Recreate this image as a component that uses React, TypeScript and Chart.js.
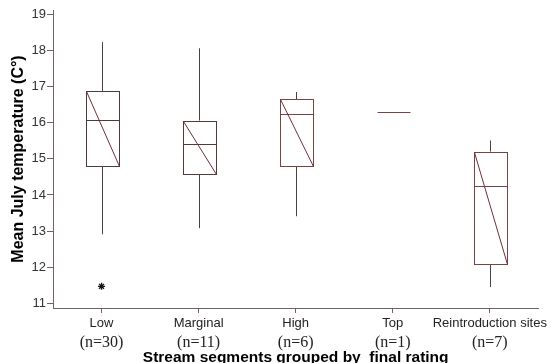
import React, { useEffect, useRef } from "react";
import { Chart, registerables } from "chart.js";

Chart.register(...registerables);

// Stream segment groups and their sample sizes
const categories = ["Low", "Marginal", "High", "Top", "Reintroduction sites"];
const sampleSizes = ["(n=30)", "(n=11)", "(n=6)", "(n=1)", "(n=7)"];

// Box-plot summaries of mean July temperature (°C)
const whiskerHigh = [18.23, 18.06, 16.85, 16.31, 15.51];
const upperQuartile = [16.88, 16.06, 16.65, 16.31, 15.2];
const medians = [16.07, 15.4, 16.24, 16.31, 14.25];
const lowerQuartile = [14.79, 14.57, 14.79, 16.31, 12.09];
const whiskerLow = [12.91, 13.08, 13.41, 16.31, 11.45];
const outliers = [11.47, null, null, null, null];

const yTicks = [11, 12, 13, 14, 15, 16, 17, 18, 19];

const SANS = "'Liberation Sans', Arial, sans-serif";
const SERIF = "'Liberation Serif', 'Times New Roman', serif";
const AXIS_COLOR = "#6f6262";
const BOX_COLORS = ["#4b3c3c", "#5a3838", "#7a4343", "#7a4343", "#7a4343"];
const WHISKER_COLOR = "#4d4040";
const DIAGONAL_COLOR = "#6e2f38";

const boxPlotPlugin = {
  id: "boxPlots",
  beforeDatasetsDraw(chart: any) {
    const { ctx } = chart;
    const xs = chart.scales.x;
    const ys = chart.scales.y;
    const step = xs.getPixelForValue(1) - xs.getPixelForValue(0);
    const half = step * 0.17;
    ctx.save();
    ctx.lineWidth = 1;
    categories.forEach((_, i) => {
      const cx = Math.round(xs.getPixelForValue(i)) + 0.5;
      const left = Math.round(cx - half) + 0.5;
      const right = Math.round(cx + half) + 0.5;
      const yTop = ys.getPixelForValue(upperQuartile[i]);
      const yBot = ys.getPixelForValue(lowerQuartile[i]);
      const yMed = ys.getPixelForValue(medians[i]);
      const yHi = ys.getPixelForValue(whiskerHigh[i]);
      const yLo = ys.getPixelForValue(whiskerLow[i]);

      if (upperQuartile[i] === lowerQuartile[i]) {
        // single observation: only a median line
        ctx.strokeStyle = BOX_COLORS[i];
        ctx.beginPath();
        ctx.moveTo(left, Math.round(yMed) + 0.5);
        ctx.lineTo(right, Math.round(yMed) + 0.5);
        ctx.stroke();
        return;
      }

      // whiskers
      ctx.strokeStyle = WHISKER_COLOR;
      ctx.beginPath();
      ctx.moveTo(cx, yHi);
      ctx.lineTo(cx, yTop);
      ctx.moveTo(cx, yBot);
      ctx.lineTo(cx, yLo);
      ctx.stroke();

      // box
      ctx.strokeStyle = BOX_COLORS[i];
      const t = Math.round(yTop) + 0.5;
      const b = Math.round(yBot) + 0.5;
      ctx.strokeRect(left, t, right - left, b - t);

      // median
      ctx.beginPath();
      ctx.moveTo(left, Math.round(yMed) + 0.5);
      ctx.lineTo(right, Math.round(yMed) + 0.5);
      ctx.stroke();

      // diagonal from upper-left to lower-right corner
      ctx.strokeStyle = DIAGONAL_COLOR;
      ctx.beginPath();
      ctx.moveTo(left, t);
      ctx.lineTo(right, b);
      ctx.stroke();
    });
    ctx.restore();
  },
};

export default function App() {
  const canvasRef = useRef<HTMLCanvasElement | null>(null);

  useEffect(() => {
    const canvas = canvasRef.current;
    if (!canvas) return;
    const chart = new Chart(canvas, {
      type: "line",
      data: {
        labels: categories,
        datasets: [
          {
            label: "Outliers",
            data: outliers as any,
            showLine: false,
            pointStyle: "star",
            pointRadius: 3.5,
            pointBorderWidth: 1.3,
            borderColor: "#111",
            backgroundColor: "#111",
          },
        ],
      },
      options: {
        responsive: false,
        animation: false,
        events: [],
        layout: { padding: { top: 10, right: 11, left: 0, bottom: 0 } },
        plugins: {
          legend: { display: false },
          tooltip: { enabled: false },
        },
        scales: {
          x: {
            type: "category",
            offset: true,
            grid: {
              display: true,
              drawOnChartArea: false,
              drawTicks: true,
              tickLength: 5,
              color: AXIS_COLOR,
            },
            border: { display: true, color: AXIS_COLOR, width: 1 },
            ticks: {
              autoSkip: false,
              maxRotation: 0,
              minRotation: 0,
              padding: 3,
              color: "#222",
              font: { family: SANS, size: 13 },
            },
            afterFit: (s: any) => {
              s.height = 24;
            },
          },
          xN: {
            type: "category",
            position: "bottom",
            labels: sampleSizes,
            offset: true,
            grid: { display: false },
            border: { display: false },
            ticks: {
              autoSkip: false,
              maxRotation: 0,
              minRotation: 0,
              padding: -7,
              color: "#222",
              font: { family: SERIF, size: 16 },
            },
            title: {
              display: true,
              text: "Stream segments grouped by  final rating",
              color: "#000",
              padding: { top: 0, bottom: -4 },
              font: { family: SANS, size: 15.5, weight: "bold" },
            },
            afterFit: (s: any) => {
              s.height = 31;
            },
          },
          y: {
            type: "linear",
            min: 10.87,
            max: 19.12,
            afterBuildTicks: (s: any) => {
              s.ticks = yTicks.map((v) => ({ value: v }));
            },
            grid: {
              display: true,
              drawOnChartArea: false,
              drawTicks: true,
              tickLength: 6,
              color: AXIS_COLOR,
            },
            border: { display: true, color: AXIS_COLOR, width: 1 },
            ticks: {
              padding: 1,
              color: "#333",
              font: { family: SANS, size: 13 },
            },
            title: {
              display: true,
              text: "Mean July temperature (C°)",
              color: "#000",
              padding: { top: 9, bottom: 0 },
              font: { family: SANS, size: 16, weight: "bold" },
            },
            afterFit: (s: any) => {
              s.width = 53;
            },
          },
        },
      },
      plugins: [boxPlotPlugin],
    });
    return () => chart.destroy();
  }, []);

  return (
    <div
      style={{
        position: "fixed",
        left: 0,
        top: 0,
        width: 551,
        height: 363,
        background: "#fff",
      }}
    >
      <canvas
        ref={canvasRef}
        width={551}
        height={363}
        style={{ width: 551, height: 363, display: "block" }}
      />
    </div>
  );
}
